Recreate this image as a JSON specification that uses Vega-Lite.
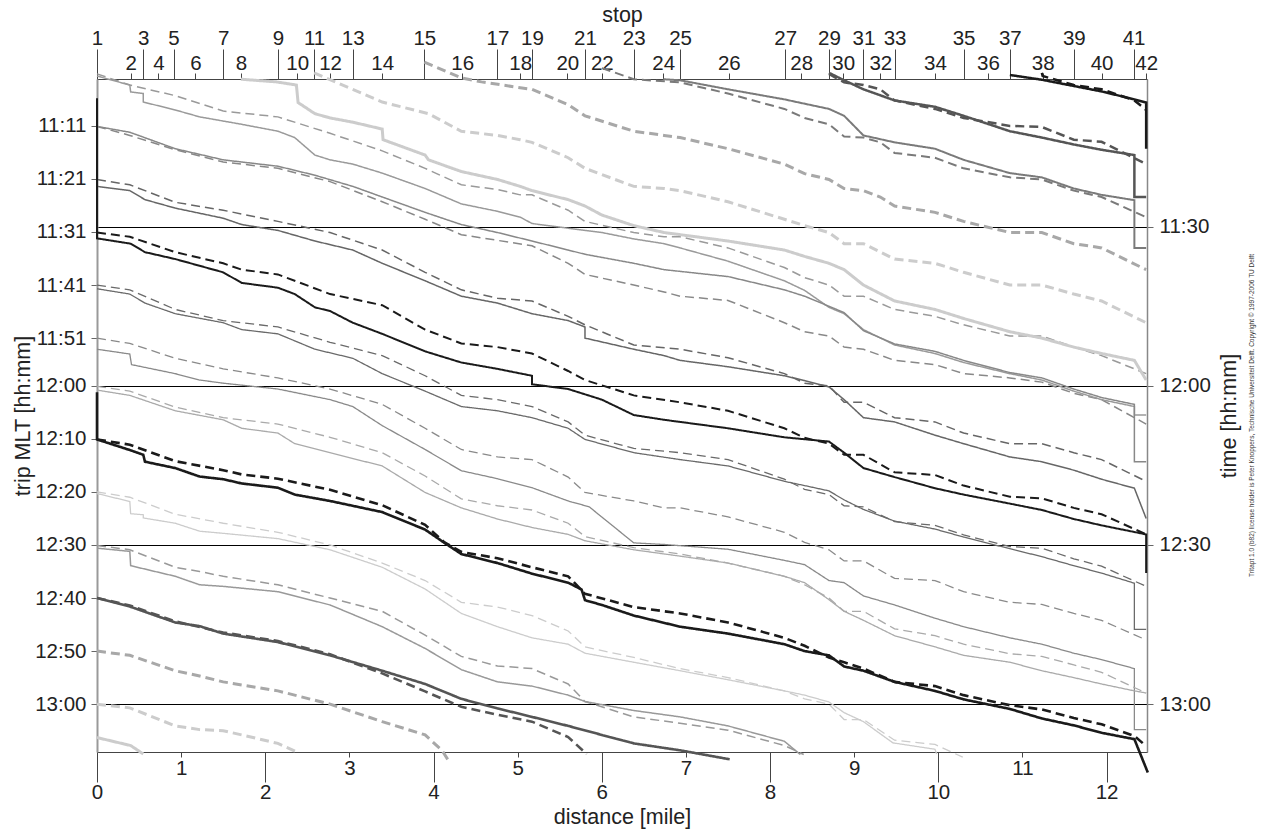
{
"$schema": "https://vega.github.io/schema/vega-lite/v6.json",
"width": 1050, "height": 673,
"autosize": {"type": "none"},
"padding": {"left": 97, "top": 79, "right": 117, "bottom": 79},
"background": "white",
"title": {"text": "Tritapt 1.0 (b82) license holder is Peter Knoppers, Technische Universiteit Delft. Copyright © 1997-2006 TU Delft", "orient": "right", "anchor": "middle", "angle": 270, "baseline": "top", "offset": 3, "fontSize": 6.5, "fontWeight": "normal", "font": "Liberation Sans", "color": "#333"},
"config": {"view": {"stroke": null}, "font": "Liberation Sans",
  "axis": {"labelFont": "Liberation Sans", "titleFont": "Liberation Sans", "labelFontSize": 20.5, "titleFontSize": 21.5, "titleFontWeight": "normal", "labelColor": "#222", "titleColor": "#222", "grid": false, "labelFlush": false, "labelOverlap": false, "labelBound": false, "domainColor": "#444", "tickColor": "#444", "tickWidth": 1}},
"datasets": {"trips": [
{"trip":"10:11","kind":"act","d":10.85,"t":1.4},{"trip":"10:11","kind":"act","d":11.23,"t":2.3},{"trip":"10:11","kind":"act","d":11.94,"t":4.5},{"trip":"10:11","kind":"act","d":12.33,"t":6.0},{"trip":"10:11","kind":"act","d":12.47,"t":6.6},{"trip":"10:11","kind":"act","d":12.47,"t":15.3},
{"trip":"10:11","kind":"plan","d":11.23,"t":1.0},{"trip":"10:11","kind":"plan","d":11.24,"t":1.6},{"trip":"10:11","kind":"plan","d":11.61,"t":3.3},{"trip":"10:11","kind":"plan","d":11.94,"t":4.1},{"trip":"10:11","kind":"plan","d":12.33,"t":6.2},{"trip":"10:11","kind":"plan","d":12.47,"t":8.0},
{"trip":"10:21","kind":"act","d":8.70,"t":1.0},{"trip":"10:21","kind":"act","d":8.88,"t":2.4},{"trip":"10:21","kind":"act","d":9.11,"t":4.1},{"trip":"10:21","kind":"act","d":9.48,"t":6.2},{"trip":"10:21","kind":"act","d":9.96,"t":7.4},{"trip":"10:21","kind":"act","d":10.30,"t":9.1},{"trip":"10:21","kind":"act","d":10.85,"t":12.0},{"trip":"10:21","kind":"act","d":11.23,"t":13.2},{"trip":"10:21","kind":"act","d":11.61,"t":14.5},{"trip":"10:21","kind":"act","d":11.94,"t":15.5},{"trip":"10:21","kind":"act","d":12.33,"t":16.5},{"trip":"10:21","kind":"act","d":12.33,"t":24.4},{"trip":"10:21","kind":"act","d":12.47,"t":24.4},
{"trip":"10:21","kind":"plan","d":8.70,"t":1.2},{"trip":"10:21","kind":"plan","d":8.88,"t":2.8},{"trip":"10:21","kind":"plan","d":9.11,"t":3.3},{"trip":"10:21","kind":"plan","d":9.31,"t":4.1},{"trip":"10:21","kind":"plan","d":9.48,"t":6.2},{"trip":"10:21","kind":"plan","d":9.96,"t":7.8},{"trip":"10:21","kind":"plan","d":10.30,"t":9.5},{"trip":"10:21","kind":"plan","d":10.85,"t":11.0},{"trip":"10:21","kind":"plan","d":11.23,"t":11.2},{"trip":"10:21","kind":"plan","d":11.61,"t":13.6},{"trip":"10:21","kind":"plan","d":11.94,"t":14.0},{"trip":"10:21","kind":"plan","d":12.47,"t":18.2},
{"trip":"10:31","kind":"act","d":6.73,"t":2.2},{"trip":"10:31","kind":"act","d":6.93,"t":2.4},{"trip":"10:31","kind":"act","d":7.50,"t":4.1},{"trip":"10:31","kind":"act","d":8.17,"t":6.0},{"trip":"10:31","kind":"act","d":8.70,"t":7.8},{"trip":"10:31","kind":"act","d":8.88,"t":9.1},{"trip":"10:31","kind":"act","d":9.11,"t":12.8},{"trip":"10:31","kind":"act","d":9.48,"t":14.1},{"trip":"10:31","kind":"act","d":9.96,"t":15.3},{"trip":"10:31","kind":"act","d":10.30,"t":17.4},{"trip":"10:31","kind":"act","d":10.85,"t":19.9},{"trip":"10:31","kind":"act","d":11.23,"t":20.7},{"trip":"10:31","kind":"act","d":11.61,"t":22.8},{"trip":"10:31","kind":"act","d":11.94,"t":24.0},{"trip":"10:31","kind":"act","d":12.33,"t":25.0},{"trip":"10:31","kind":"act","d":12.33,"t":34.0},{"trip":"10:31","kind":"act","d":12.47,"t":34.0},
{"trip":"10:31","kind":"plan","d":6.00,"t":0.1},{"trip":"10:31","kind":"plan","d":6.38,"t":2.2},{"trip":"10:31","kind":"plan","d":6.93,"t":2.8},{"trip":"10:31","kind":"plan","d":7.50,"t":4.9},{"trip":"10:31","kind":"plan","d":8.17,"t":7.8},{"trip":"10:31","kind":"plan","d":8.41,"t":9.5},{"trip":"10:31","kind":"plan","d":8.70,"t":10.7},{"trip":"10:31","kind":"plan","d":8.88,"t":13.0},{"trip":"10:31","kind":"plan","d":9.11,"t":13.2},{"trip":"10:31","kind":"plan","d":9.31,"t":14.1},{"trip":"10:31","kind":"plan","d":9.48,"t":16.1},{"trip":"10:31","kind":"plan","d":9.96,"t":17.0},{"trip":"10:31","kind":"plan","d":10.30,"t":19.0},{"trip":"10:31","kind":"plan","d":10.85,"t":20.7},{"trip":"10:31","kind":"plan","d":11.23,"t":21.1},{"trip":"10:31","kind":"plan","d":11.61,"t":23.2},{"trip":"10:31","kind":"plan","d":11.94,"t":24.4},{"trip":"10:31","kind":"plan","d":12.47,"t":28.2},
{"trip":"10:41","kind":"plan","d":3.89,"t":-1.0},{"trip":"10:41","kind":"plan","d":4.34,"t":2.0},{"trip":"10:41","kind":"plan","d":4.57,"t":2.7},{"trip":"10:41","kind":"plan","d":5.03,"t":3.8},{"trip":"10:41","kind":"plan","d":5.17,"t":4.1},{"trip":"10:41","kind":"plan","d":5.60,"t":7.0},{"trip":"10:41","kind":"plan","d":5.80,"t":9.1},{"trip":"10:41","kind":"plan","d":6.38,"t":12.0},{"trip":"10:41","kind":"plan","d":6.74,"t":12.8},{"trip":"10:41","kind":"plan","d":6.93,"t":13.2},{"trip":"10:41","kind":"plan","d":7.50,"t":15.3},{"trip":"10:41","kind":"plan","d":8.17,"t":18.2},{"trip":"10:41","kind":"plan","d":8.41,"t":20.0},{"trip":"10:41","kind":"plan","d":8.70,"t":21.1},{"trip":"10:41","kind":"plan","d":8.88,"t":22.8},{"trip":"10:41","kind":"plan","d":9.11,"t":23.2},{"trip":"10:41","kind":"plan","d":9.31,"t":24.4},{"trip":"10:41","kind":"plan","d":9.48,"t":26.1},{"trip":"10:41","kind":"plan","d":9.96,"t":27.3},{"trip":"10:41","kind":"plan","d":10.30,"t":29.0},{"trip":"10:41","kind":"plan","d":10.85,"t":31.1},{"trip":"10:41","kind":"plan","d":11.23,"t":31.1},{"trip":"10:41","kind":"plan","d":11.61,"t":33.2},{"trip":"10:41","kind":"plan","d":11.94,"t":34.0},{"trip":"10:41","kind":"plan","d":12.47,"t":38.1},
{"trip":"10:51","kind":"plan","d":2.58,"t":1.0},{"trip":"10:51","kind":"plan","d":3.39,"t":6.5},{"trip":"10:51","kind":"plan","d":3.94,"t":8.7},{"trip":"10:51","kind":"plan","d":4.33,"t":12.0},{"trip":"10:51","kind":"plan","d":4.76,"t":12.8},{"trip":"10:51","kind":"plan","d":5.03,"t":13.6},{"trip":"10:51","kind":"plan","d":5.17,"t":14.1},{"trip":"10:51","kind":"plan","d":5.60,"t":17.0},{"trip":"10:51","kind":"plan","d":5.80,"t":19.0},{"trip":"10:51","kind":"plan","d":6.38,"t":22.4},{"trip":"10:51","kind":"plan","d":6.74,"t":22.8},{"trip":"10:51","kind":"plan","d":6.93,"t":23.2},{"trip":"10:51","kind":"plan","d":7.50,"t":25.3},{"trip":"10:51","kind":"plan","d":8.17,"t":28.6},{"trip":"10:51","kind":"plan","d":8.41,"t":29.8},{"trip":"10:51","kind":"plan","d":8.70,"t":31.1},{"trip":"10:51","kind":"plan","d":8.88,"t":33.2},{"trip":"10:51","kind":"plan","d":9.11,"t":33.2},{"trip":"10:51","kind":"plan","d":9.48,"t":36.1},{"trip":"10:51","kind":"plan","d":9.96,"t":36.9},{"trip":"10:51","kind":"plan","d":10.30,"t":38.6},{"trip":"10:51","kind":"plan","d":10.85,"t":41.0},{"trip":"10:51","kind":"plan","d":11.23,"t":41.0},{"trip":"10:51","kind":"plan","d":11.61,"t":42.7},{"trip":"10:51","kind":"plan","d":11.94,"t":44.0},{"trip":"10:51","kind":"plan","d":12.47,"t":48.1},
{"trip":"10:51","kind":"act","d":1.71,"t":2.2},{"trip":"10:51","kind":"act","d":2.13,"t":2.7},{"trip":"10:51","kind":"act","d":2.37,"t":3.3},{"trip":"10:51","kind":"act","d":2.39,"t":6.6},{"trip":"10:51","kind":"act","d":2.59,"t":8.7},{"trip":"10:51","kind":"act","d":2.77,"t":9.5},{"trip":"10:51","kind":"act","d":3.04,"t":10.3},{"trip":"10:51","kind":"act","d":3.39,"t":11.6},{"trip":"10:51","kind":"act","d":3.40,"t":13.6},{"trip":"10:51","kind":"act","d":3.90,"t":16.5},{"trip":"10:51","kind":"act","d":3.94,"t":17.4},{"trip":"10:51","kind":"act","d":4.33,"t":19.6},{"trip":"10:51","kind":"act","d":4.76,"t":21.1},{"trip":"10:51","kind":"act","d":5.03,"t":22.4},{"trip":"10:51","kind":"act","d":5.17,"t":23.2},{"trip":"10:51","kind":"act","d":5.60,"t":24.9},{"trip":"10:51","kind":"act","d":5.80,"t":26.1},{"trip":"10:51","kind":"act","d":6.00,"t":27.8},{"trip":"10:51","kind":"act","d":6.38,"t":29.8},{"trip":"10:51","kind":"act","d":6.74,"t":31.1},{"trip":"10:51","kind":"act","d":6.93,"t":31.5},{"trip":"10:51","kind":"act","d":7.50,"t":32.7},{"trip":"10:51","kind":"act","d":8.17,"t":34.4},{"trip":"10:51","kind":"act","d":8.41,"t":35.6},{"trip":"10:51","kind":"act","d":8.70,"t":36.9},{"trip":"10:51","kind":"act","d":8.88,"t":38.1},{"trip":"10:51","kind":"act","d":9.11,"t":41.0},{"trip":"10:51","kind":"act","d":9.48,"t":44.0},{"trip":"10:51","kind":"act","d":9.96,"t":45.6},{"trip":"10:51","kind":"act","d":10.30,"t":47.3},{"trip":"10:51","kind":"act","d":10.85,"t":49.8},{"trip":"10:51","kind":"act","d":11.23,"t":51.0},{"trip":"10:51","kind":"act","d":11.61,"t":52.7},{"trip":"10:51","kind":"act","d":11.94,"t":53.9},{"trip":"10:51","kind":"act","d":12.33,"t":55.2},{"trip":"10:51","kind":"act","d":12.47,"t":58.9},
{"trip":"11:01","kind":"plan","d":0,"t":1.2},{"trip":"11:01","kind":"plan","d":0.39,"t":3.3},{"trip":"11:01","kind":"plan","d":0.93,"t":5.3},{"trip":"11:01","kind":"plan","d":1.50,"t":8.2},{"trip":"11:01","kind":"plan","d":2.15,"t":9.3},{"trip":"11:01","kind":"plan","d":2.77,"t":12.4},{"trip":"11:01","kind":"plan","d":3.39,"t":15.7},{"trip":"11:01","kind":"plan","d":3.90,"t":19.0},{"trip":"11:01","kind":"plan","d":4.33,"t":22.1},{"trip":"11:01","kind":"plan","d":4.76,"t":23.0},{"trip":"11:01","kind":"plan","d":5.03,"t":24.0},{"trip":"11:01","kind":"plan","d":5.17,"t":24.0},{"trip":"11:01","kind":"plan","d":5.60,"t":26.9},{"trip":"11:01","kind":"plan","d":5.80,"t":29.0},{"trip":"11:01","kind":"plan","d":6.38,"t":31.1},{"trip":"11:01","kind":"plan","d":6.74,"t":31.9},{"trip":"11:01","kind":"plan","d":6.93,"t":31.9},{"trip":"11:01","kind":"plan","d":7.50,"t":34.0},{"trip":"11:01","kind":"plan","d":8.17,"t":37.7},{"trip":"11:01","kind":"plan","d":8.41,"t":39.6},{"trip":"11:01","kind":"plan","d":8.70,"t":41.0},{"trip":"11:01","kind":"plan","d":8.88,"t":43.1},{"trip":"11:01","kind":"plan","d":9.11,"t":43.1},{"trip":"11:01","kind":"plan","d":9.48,"t":45.6},{"trip":"11:01","kind":"plan","d":9.96,"t":46.9},{"trip":"11:01","kind":"plan","d":10.30,"t":48.5},{"trip":"11:01","kind":"plan","d":10.85,"t":50.6},{"trip":"11:01","kind":"plan","d":11.23,"t":50.6},{"trip":"11:01","kind":"plan","d":11.61,"t":52.7},{"trip":"11:01","kind":"plan","d":11.94,"t":54.3},{"trip":"11:01","kind":"plan","d":12.47,"t":57.7},
{"trip":"11:01","kind":"act","d":0,"t":1.6},{"trip":"11:01","kind":"act","d":0.39,"t":3.3},{"trip":"11:01","kind":"act","d":0.40,"t":4.6},{"trip":"11:01","kind":"act","d":0.55,"t":4.9},{"trip":"11:01","kind":"act","d":0.55,"t":6.5},{"trip":"11:01","kind":"act","d":0.93,"t":8.0},{"trip":"11:01","kind":"act","d":1.22,"t":9.3},{"trip":"11:01","kind":"act","d":1.72,"t":10.7},{"trip":"11:01","kind":"act","d":2.15,"t":12.0},{"trip":"11:01","kind":"act","d":2.35,"t":13.2},{"trip":"11:01","kind":"act","d":2.59,"t":16.5},{"trip":"11:01","kind":"act","d":2.77,"t":17.4},{"trip":"11:01","kind":"act","d":3.04,"t":18.2},{"trip":"11:01","kind":"act","d":3.39,"t":19.9},{"trip":"11:01","kind":"act","d":3.90,"t":22.8},{"trip":"11:01","kind":"act","d":4.33,"t":25.7},{"trip":"11:01","kind":"act","d":4.76,"t":27.1},{"trip":"11:01","kind":"act","d":5.03,"t":28.2},{"trip":"11:01","kind":"act","d":5.17,"t":29.4},{"trip":"11:01","kind":"act","d":5.80,"t":30.7},{"trip":"11:01","kind":"act","d":6.00,"t":31.1},{"trip":"11:01","kind":"act","d":6.38,"t":32.3},{"trip":"11:01","kind":"act","d":6.74,"t":33.2},{"trip":"11:01","kind":"act","d":6.93,"t":34.0},{"trip":"11:01","kind":"act","d":7.50,"t":36.5},{"trip":"11:01","kind":"act","d":8.17,"t":40.2},{"trip":"11:01","kind":"act","d":8.41,"t":42.0},{"trip":"11:01","kind":"act","d":8.70,"t":45.2},{"trip":"11:01","kind":"act","d":8.88,"t":46.4},{"trip":"11:01","kind":"act","d":9.11,"t":49.4},{"trip":"11:01","kind":"act","d":9.48,"t":52.3},{"trip":"11:01","kind":"act","d":9.96,"t":53.9},{"trip":"11:01","kind":"act","d":10.30,"t":55.6},{"trip":"11:01","kind":"act","d":10.85,"t":57.7},{"trip":"11:01","kind":"act","d":11.23,"t":58.9},{"trip":"11:01","kind":"act","d":11.61,"t":61.0},{"trip":"11:01","kind":"act","d":11.94,"t":62.6},{"trip":"11:01","kind":"act","d":12.33,"t":63.9},{"trip":"11:01","kind":"act","d":12.33,"t":65.5},{"trip":"11:01","kind":"act","d":12.47,"t":65.5},
{"trip":"11:11","kind":"act","d":0,"t":11.1},{"trip":"11:11","kind":"act","d":0.39,"t":12.2},{"trip":"11:11","kind":"act","d":0.93,"t":15.3},{"trip":"11:11","kind":"act","d":1.50,"t":17.4},{"trip":"11:11","kind":"act","d":2.15,"t":18.6},{"trip":"11:11","kind":"act","d":2.59,"t":20.3},{"trip":"11:11","kind":"act","d":3.04,"t":22.4},{"trip":"11:11","kind":"act","d":3.39,"t":24.4},{"trip":"11:11","kind":"act","d":3.90,"t":27.3},{"trip":"11:11","kind":"act","d":4.33,"t":29.6},{"trip":"11:11","kind":"act","d":4.76,"t":31.1},{"trip":"11:11","kind":"act","d":5.17,"t":32.7},{"trip":"11:11","kind":"act","d":5.60,"t":34.4},{"trip":"11:11","kind":"act","d":5.80,"t":35.2},{"trip":"11:11","kind":"act","d":6.38,"t":36.9},{"trip":"11:11","kind":"act","d":6.74,"t":38.1},{"trip":"11:11","kind":"act","d":7.50,"t":39.4},{"trip":"11:11","kind":"act","d":8.17,"t":41.9},{"trip":"11:11","kind":"act","d":8.41,"t":43.1},{"trip":"11:11","kind":"act","d":8.70,"t":45.0},{"trip":"11:11","kind":"act","d":8.88,"t":46.2},{"trip":"11:11","kind":"act","d":9.11,"t":49.6},{"trip":"11:11","kind":"act","d":9.48,"t":52.1},{"trip":"11:11","kind":"act","d":9.96,"t":53.5},{"trip":"11:11","kind":"act","d":10.30,"t":55.2},{"trip":"11:11","kind":"act","d":10.85,"t":57.5},{"trip":"11:11","kind":"act","d":11.23,"t":58.5},{"trip":"11:11","kind":"act","d":11.61,"t":60.6},{"trip":"11:11","kind":"act","d":11.94,"t":62.2},{"trip":"11:11","kind":"act","d":12.33,"t":63.5},{"trip":"11:11","kind":"act","d":12.33,"t":74.3},{"trip":"11:11","kind":"act","d":12.47,"t":74.3},
{"trip":"11:11","kind":"plan","d":0,"t":11.1},{"trip":"11:11","kind":"plan","d":0.39,"t":12.8},{"trip":"11:11","kind":"plan","d":0.93,"t":15.5},{"trip":"11:11","kind":"plan","d":1.50,"t":17.8},{"trip":"11:11","kind":"plan","d":2.15,"t":19.0},{"trip":"11:11","kind":"plan","d":2.77,"t":21.5},{"trip":"11:11","kind":"plan","d":3.39,"t":25.3},{"trip":"11:11","kind":"plan","d":3.90,"t":28.6},{"trip":"11:11","kind":"plan","d":4.33,"t":31.5},{"trip":"11:11","kind":"plan","d":5.17,"t":33.6},{"trip":"11:11","kind":"plan","d":5.60,"t":36.9},{"trip":"11:11","kind":"plan","d":5.80,"t":39.0},{"trip":"11:11","kind":"plan","d":6.38,"t":41.0},{"trip":"11:11","kind":"plan","d":6.74,"t":42.3},{"trip":"11:11","kind":"plan","d":6.93,"t":43.1},{"trip":"11:11","kind":"plan","d":7.50,"t":43.9},{"trip":"11:11","kind":"plan","d":8.17,"t":48.1},{"trip":"11:11","kind":"plan","d":8.41,"t":49.8},{"trip":"11:11","kind":"plan","d":8.70,"t":50.6},{"trip":"11:11","kind":"plan","d":8.88,"t":52.7},{"trip":"11:11","kind":"plan","d":9.11,"t":53.1},{"trip":"11:11","kind":"plan","d":9.48,"t":55.2},{"trip":"11:11","kind":"plan","d":9.96,"t":56.0},{"trip":"11:11","kind":"plan","d":10.30,"t":57.7},{"trip":"11:11","kind":"plan","d":10.85,"t":58.5},{"trip":"11:11","kind":"plan","d":11.23,"t":59.3},{"trip":"11:11","kind":"plan","d":11.61,"t":61.4},{"trip":"11:11","kind":"plan","d":11.94,"t":62.6},{"trip":"11:11","kind":"plan","d":12.47,"t":67.2},
{"trip":"11:21","kind":"plan","d":0,"t":21.1},{"trip":"11:21","kind":"plan","d":0.39,"t":22.1},{"trip":"11:21","kind":"plan","d":0.93,"t":25.4},{"trip":"11:21","kind":"plan","d":1.50,"t":26.9},{"trip":"11:21","kind":"plan","d":2.15,"t":29.0},{"trip":"11:21","kind":"plan","d":2.77,"t":31.1},{"trip":"11:21","kind":"plan","d":3.39,"t":34.4},{"trip":"11:21","kind":"plan","d":3.90,"t":38.6},{"trip":"11:21","kind":"plan","d":4.33,"t":41.9},{"trip":"11:21","kind":"plan","d":4.76,"t":43.5},{"trip":"11:21","kind":"plan","d":5.17,"t":44.0},{"trip":"11:21","kind":"plan","d":5.60,"t":46.9},{"trip":"11:21","kind":"plan","d":5.80,"t":48.5},{"trip":"11:21","kind":"plan","d":6.38,"t":52.3},{"trip":"11:21","kind":"plan","d":6.93,"t":53.1},{"trip":"11:21","kind":"plan","d":7.50,"t":54.7},{"trip":"11:21","kind":"plan","d":8.17,"t":57.7},{"trip":"11:21","kind":"plan","d":8.41,"t":59.5},{"trip":"11:21","kind":"plan","d":8.70,"t":60.0},{"trip":"11:21","kind":"plan","d":8.88,"t":63.1},{"trip":"11:21","kind":"plan","d":9.11,"t":63.1},{"trip":"11:21","kind":"plan","d":9.48,"t":66.0},{"trip":"11:21","kind":"plan","d":9.96,"t":66.8},{"trip":"11:21","kind":"plan","d":10.30,"t":68.9},{"trip":"11:21","kind":"plan","d":10.85,"t":70.9},{"trip":"11:21","kind":"plan","d":11.23,"t":70.9},{"trip":"11:21","kind":"plan","d":11.61,"t":72.6},{"trip":"11:21","kind":"plan","d":11.94,"t":73.9},{"trip":"11:21","kind":"plan","d":12.47,"t":78.0},
{"trip":"11:21","kind":"act","d":0,"t":22.4},{"trip":"11:21","kind":"act","d":0.39,"t":23.2},{"trip":"11:21","kind":"act","d":0.57,"t":24.9},{"trip":"11:21","kind":"act","d":0.93,"t":26.5},{"trip":"11:21","kind":"act","d":1.50,"t":28.4},{"trip":"11:21","kind":"act","d":1.72,"t":29.6},{"trip":"11:21","kind":"act","d":2.15,"t":30.7},{"trip":"11:21","kind":"act","d":2.59,"t":32.7},{"trip":"11:21","kind":"act","d":3.04,"t":34.4},{"trip":"11:21","kind":"act","d":3.39,"t":36.9},{"trip":"11:21","kind":"act","d":3.90,"t":40.2},{"trip":"11:21","kind":"act","d":4.33,"t":43.1},{"trip":"11:21","kind":"act","d":4.76,"t":44.4},{"trip":"11:21","kind":"act","d":5.17,"t":46.4},{"trip":"11:21","kind":"act","d":5.60,"t":47.7},{"trip":"11:21","kind":"act","d":5.80,"t":48.9},{"trip":"11:21","kind":"act","d":5.80,"t":51.0},{"trip":"11:21","kind":"act","d":6.38,"t":53.1},{"trip":"11:21","kind":"act","d":6.74,"t":54.3},{"trip":"11:21","kind":"act","d":6.93,"t":55.2},{"trip":"11:21","kind":"act","d":7.50,"t":56.4},{"trip":"11:21","kind":"act","d":8.17,"t":58.1},{"trip":"11:21","kind":"act","d":8.41,"t":59.0},{"trip":"11:21","kind":"act","d":8.70,"t":60.2},{"trip":"11:21","kind":"act","d":8.88,"t":62.6},{"trip":"11:21","kind":"act","d":9.11,"t":66.0},{"trip":"11:21","kind":"act","d":9.48,"t":66.8},{"trip":"11:21","kind":"act","d":9.96,"t":69.3},{"trip":"11:21","kind":"act","d":10.30,"t":70.9},{"trip":"11:21","kind":"act","d":10.85,"t":73.4},{"trip":"11:21","kind":"act","d":11.23,"t":74.3},{"trip":"11:21","kind":"act","d":11.61,"t":75.9},{"trip":"11:21","kind":"act","d":11.94,"t":77.6},{"trip":"11:21","kind":"act","d":12.33,"t":79.3},{"trip":"11:21","kind":"act","d":12.47,"t":85.0},
{"trip":"11:31","kind":"act","d":0,"t":5.8},{"trip":"11:31","kind":"act","d":0,"t":32.2},{"trip":"11:31","kind":"act","d":0.40,"t":33.2},{"trip":"11:31","kind":"act","d":0.57,"t":34.8},{"trip":"11:31","kind":"act","d":0.93,"t":36.1},{"trip":"11:31","kind":"act","d":1.50,"t":38.6},{"trip":"11:31","kind":"act","d":1.72,"t":40.6},{"trip":"11:31","kind":"act","d":2.15,"t":41.5},{"trip":"11:31","kind":"act","d":2.35,"t":42.7},{"trip":"11:31","kind":"act","d":2.59,"t":45.2},{"trip":"11:31","kind":"act","d":2.77,"t":45.9},{"trip":"11:31","kind":"act","d":3.04,"t":48.1},{"trip":"11:31","kind":"act","d":3.39,"t":50.2},{"trip":"11:31","kind":"act","d":3.90,"t":53.5},{"trip":"11:31","kind":"act","d":4.33,"t":55.6},{"trip":"11:31","kind":"act","d":4.76,"t":56.8},{"trip":"11:31","kind":"act","d":5.17,"t":58.1},{"trip":"11:31","kind":"act","d":5.17,"t":59.7},{"trip":"11:31","kind":"act","d":5.60,"t":60.6},{"trip":"11:31","kind":"act","d":5.80,"t":61.6},{"trip":"11:31","kind":"act","d":6.00,"t":62.6},{"trip":"11:31","kind":"act","d":6.38,"t":65.5},{"trip":"11:31","kind":"act","d":6.74,"t":66.4},{"trip":"11:31","kind":"act","d":7.50,"t":68.0},{"trip":"11:31","kind":"act","d":8.17,"t":69.7},{"trip":"11:31","kind":"act","d":8.70,"t":70.5},{"trip":"11:31","kind":"act","d":8.88,"t":72.6},{"trip":"11:31","kind":"act","d":9.11,"t":75.5},{"trip":"11:31","kind":"act","d":9.48,"t":77.2},{"trip":"11:31","kind":"act","d":9.96,"t":79.3},{"trip":"11:31","kind":"act","d":10.30,"t":80.5},{"trip":"11:31","kind":"act","d":10.85,"t":82.2},{"trip":"11:31","kind":"act","d":11.23,"t":83.4},{"trip":"11:31","kind":"act","d":11.61,"t":85.1},{"trip":"11:31","kind":"act","d":11.94,"t":86.3},{"trip":"11:31","kind":"act","d":12.47,"t":88.0},{"trip":"11:31","kind":"act","d":12.47,"t":95.3},
{"trip":"11:31","kind":"plan","d":0,"t":31.1},{"trip":"11:31","kind":"plan","d":0.39,"t":31.9},{"trip":"11:31","kind":"plan","d":0.93,"t":34.8},{"trip":"11:31","kind":"plan","d":1.50,"t":36.9},{"trip":"11:31","kind":"plan","d":1.72,"t":38.1},{"trip":"11:31","kind":"plan","d":2.15,"t":39.0},{"trip":"11:31","kind":"plan","d":2.77,"t":42.7},{"trip":"11:31","kind":"plan","d":3.39,"t":44.8},{"trip":"11:31","kind":"plan","d":3.90,"t":49.4},{"trip":"11:31","kind":"plan","d":4.33,"t":52.0},{"trip":"11:31","kind":"plan","d":4.76,"t":52.7},{"trip":"11:31","kind":"plan","d":5.17,"t":53.9},{"trip":"11:31","kind":"plan","d":5.60,"t":57.2},{"trip":"11:31","kind":"plan","d":5.80,"t":58.9},{"trip":"11:31","kind":"plan","d":6.38,"t":61.8},{"trip":"11:31","kind":"plan","d":6.93,"t":63.1},{"trip":"11:31","kind":"plan","d":7.50,"t":64.7},{"trip":"11:31","kind":"plan","d":8.17,"t":68.0},{"trip":"11:31","kind":"plan","d":8.41,"t":69.8},{"trip":"11:31","kind":"plan","d":8.70,"t":70.9},{"trip":"11:31","kind":"plan","d":8.88,"t":73.0},{"trip":"11:31","kind":"plan","d":9.11,"t":73.0},{"trip":"11:31","kind":"plan","d":9.48,"t":76.3},{"trip":"11:31","kind":"plan","d":9.96,"t":76.8},{"trip":"11:31","kind":"plan","d":10.30,"t":78.8},{"trip":"11:31","kind":"plan","d":10.85,"t":80.9},{"trip":"11:31","kind":"plan","d":11.23,"t":81.2},{"trip":"11:31","kind":"plan","d":11.61,"t":83.0},{"trip":"11:31","kind":"plan","d":11.94,"t":84.2},{"trip":"11:31","kind":"plan","d":12.47,"t":88.0},
{"trip":"11:41","kind":"plan","d":0,"t":41.0},{"trip":"11:41","kind":"plan","d":0.39,"t":41.9},{"trip":"11:41","kind":"plan","d":0.93,"t":45.6},{"trip":"11:41","kind":"plan","d":1.50,"t":47.7},{"trip":"11:41","kind":"plan","d":2.15,"t":48.9},{"trip":"11:41","kind":"plan","d":2.77,"t":51.8},{"trip":"11:41","kind":"plan","d":3.39,"t":54.3},{"trip":"11:41","kind":"plan","d":3.90,"t":58.1},{"trip":"11:41","kind":"plan","d":4.33,"t":61.8},{"trip":"11:41","kind":"plan","d":4.76,"t":62.6},{"trip":"11:41","kind":"plan","d":5.17,"t":63.9},{"trip":"11:41","kind":"plan","d":5.60,"t":66.8},{"trip":"11:41","kind":"plan","d":5.80,"t":69.3},{"trip":"11:41","kind":"plan","d":6.38,"t":71.8},{"trip":"11:41","kind":"plan","d":6.93,"t":72.6},{"trip":"11:41","kind":"plan","d":7.50,"t":73.9},{"trip":"11:41","kind":"plan","d":8.17,"t":77.6},{"trip":"11:41","kind":"plan","d":8.41,"t":79.5},{"trip":"11:41","kind":"plan","d":8.70,"t":80.5},{"trip":"11:41","kind":"plan","d":8.88,"t":82.6},{"trip":"11:41","kind":"plan","d":9.11,"t":82.8},{"trip":"11:41","kind":"plan","d":9.48,"t":85.6},{"trip":"11:41","kind":"plan","d":9.96,"t":86.3},{"trip":"11:41","kind":"plan","d":10.30,"t":88.1},{"trip":"11:41","kind":"plan","d":10.85,"t":90.3},{"trip":"11:41","kind":"plan","d":11.23,"t":90.6},{"trip":"11:41","kind":"plan","d":11.61,"t":92.6},{"trip":"11:41","kind":"plan","d":11.94,"t":94.0},{"trip":"11:41","kind":"plan","d":12.47,"t":97.8},
{"trip":"11:41","kind":"act","d":0,"t":41.7},{"trip":"11:41","kind":"act","d":0.39,"t":42.7},{"trip":"11:41","kind":"act","d":0.57,"t":44.4},{"trip":"11:41","kind":"act","d":0.93,"t":46.4},{"trip":"11:41","kind":"act","d":1.50,"t":48.1},{"trip":"11:41","kind":"act","d":1.72,"t":49.4},{"trip":"11:41","kind":"act","d":2.15,"t":50.2},{"trip":"11:41","kind":"act","d":2.59,"t":53.1},{"trip":"11:41","kind":"act","d":3.04,"t":54.8},{"trip":"11:41","kind":"act","d":3.39,"t":57.7},{"trip":"11:41","kind":"act","d":3.90,"t":61.0},{"trip":"11:41","kind":"act","d":4.33,"t":63.9},{"trip":"11:41","kind":"act","d":4.76,"t":64.7},{"trip":"11:41","kind":"act","d":5.17,"t":66.0},{"trip":"11:41","kind":"act","d":5.60,"t":68.0},{"trip":"11:41","kind":"act","d":5.80,"t":70.1},{"trip":"11:41","kind":"act","d":6.38,"t":72.6},{"trip":"11:41","kind":"act","d":6.93,"t":73.9},{"trip":"11:41","kind":"act","d":7.50,"t":75.1},{"trip":"11:41","kind":"act","d":8.17,"t":78.0},{"trip":"11:41","kind":"act","d":8.41,"t":78.8},{"trip":"11:41","kind":"act","d":8.70,"t":79.8},{"trip":"11:41","kind":"act","d":8.88,"t":81.5},{"trip":"11:41","kind":"act","d":9.11,"t":83.3},{"trip":"11:41","kind":"act","d":9.48,"t":85.5},{"trip":"11:41","kind":"act","d":9.96,"t":87.0},{"trip":"11:41","kind":"act","d":10.30,"t":88.5},{"trip":"11:41","kind":"act","d":10.85,"t":90.7},{"trip":"11:41","kind":"act","d":11.23,"t":92.2},{"trip":"11:41","kind":"act","d":11.61,"t":93.9},{"trip":"11:41","kind":"act","d":11.94,"t":95.3},{"trip":"11:41","kind":"act","d":12.33,"t":97.2},{"trip":"11:41","kind":"act","d":12.33,"t":105.9},{"trip":"11:41","kind":"act","d":12.47,"t":105.9},
{"trip":"11:51","kind":"plan","d":0,"t":51.0},{"trip":"11:51","kind":"plan","d":0.39,"t":52.0},{"trip":"11:51","kind":"plan","d":0.93,"t":54.8},{"trip":"11:51","kind":"plan","d":1.50,"t":56.8},{"trip":"11:51","kind":"plan","d":2.15,"t":58.5},{"trip":"11:51","kind":"plan","d":2.77,"t":60.6},{"trip":"11:51","kind":"plan","d":3.39,"t":63.5},{"trip":"11:51","kind":"plan","d":3.90,"t":68.0},{"trip":"11:51","kind":"plan","d":4.33,"t":72.0},{"trip":"11:51","kind":"plan","d":4.76,"t":73.4},{"trip":"11:51","kind":"plan","d":5.17,"t":73.9},{"trip":"11:51","kind":"plan","d":5.60,"t":77.2},{"trip":"11:51","kind":"plan","d":5.80,"t":80.1},{"trip":"11:51","kind":"plan","d":6.38,"t":81.7},{"trip":"11:51","kind":"plan","d":6.74,"t":83.0},{"trip":"11:51","kind":"plan","d":6.93,"t":83.0},{"trip":"11:51","kind":"plan","d":7.50,"t":84.7},{"trip":"11:51","kind":"plan","d":8.17,"t":87.6},{"trip":"11:51","kind":"plan","d":8.41,"t":89.5},{"trip":"11:51","kind":"plan","d":8.70,"t":90.9},{"trip":"11:51","kind":"plan","d":8.88,"t":93.0},{"trip":"11:51","kind":"plan","d":9.11,"t":93.0},{"trip":"11:51","kind":"plan","d":9.48,"t":96.3},{"trip":"11:51","kind":"plan","d":9.96,"t":96.7},{"trip":"11:51","kind":"plan","d":10.30,"t":98.8},{"trip":"11:51","kind":"plan","d":10.85,"t":100.8},{"trip":"11:51","kind":"plan","d":11.23,"t":101.2},{"trip":"11:51","kind":"plan","d":11.61,"t":102.9},{"trip":"11:51","kind":"plan","d":11.94,"t":104.2},{"trip":"11:51","kind":"plan","d":12.47,"t":107.9},
{"trip":"11:51","kind":"act","d":0,"t":53.1},{"trip":"11:51","kind":"act","d":0.39,"t":54.0},{"trip":"11:51","kind":"act","d":0.41,"t":56.0},{"trip":"11:51","kind":"act","d":0.93,"t":57.7},{"trip":"11:51","kind":"act","d":1.22,"t":58.9},{"trip":"11:51","kind":"act","d":1.50,"t":59.5},{"trip":"11:51","kind":"act","d":2.15,"t":60.6},{"trip":"11:51","kind":"act","d":2.77,"t":62.6},{"trip":"11:51","kind":"act","d":3.04,"t":63.9},{"trip":"11:51","kind":"act","d":3.39,"t":67.5},{"trip":"11:51","kind":"act","d":3.90,"t":72.0},{"trip":"11:51","kind":"act","d":4.33,"t":76.0},{"trip":"11:51","kind":"act","d":4.76,"t":77.5},{"trip":"11:51","kind":"act","d":5.17,"t":79.2},{"trip":"11:51","kind":"act","d":5.60,"t":81.7},{"trip":"11:51","kind":"act","d":5.85,"t":82.8},{"trip":"11:51","kind":"act","d":6.38,"t":89.6},{"trip":"11:51","kind":"act","d":6.74,"t":89.9},{"trip":"11:51","kind":"act","d":7.50,"t":90.8},{"trip":"11:51","kind":"act","d":8.17,"t":92.9},{"trip":"11:51","kind":"act","d":8.41,"t":93.7},{"trip":"11:51","kind":"act","d":8.70,"t":96.7},{"trip":"11:51","kind":"act","d":8.88,"t":97.1},{"trip":"11:51","kind":"act","d":9.11,"t":99.6},{"trip":"11:51","kind":"act","d":9.48,"t":101.3},{"trip":"11:51","kind":"act","d":9.96,"t":103.8},{"trip":"11:51","kind":"act","d":10.30,"t":105.4},{"trip":"11:51","kind":"act","d":10.85,"t":107.5},{"trip":"11:51","kind":"act","d":11.23,"t":108.7},{"trip":"11:51","kind":"act","d":11.61,"t":110.4},{"trip":"11:51","kind":"act","d":11.94,"t":111.6},{"trip":"11:51","kind":"act","d":12.33,"t":113.3},{"trip":"11:51","kind":"act","d":12.33,"t":124.8},{"trip":"11:51","kind":"act","d":12.47,"t":124.8},
{"trip":"12:00","kind":"plan","d":0,"t":60.1},{"trip":"12:00","kind":"plan","d":0.39,"t":61.0},{"trip":"12:00","kind":"plan","d":0.93,"t":64.0},{"trip":"12:00","kind":"plan","d":1.50,"t":66.0},{"trip":"12:00","kind":"plan","d":2.15,"t":67.2},{"trip":"12:00","kind":"plan","d":2.77,"t":69.7},{"trip":"12:00","kind":"plan","d":3.39,"t":72.6},{"trip":"12:00","kind":"plan","d":3.90,"t":77.0},{"trip":"12:00","kind":"plan","d":4.33,"t":81.3},{"trip":"12:00","kind":"plan","d":4.76,"t":82.6},{"trip":"12:00","kind":"plan","d":5.17,"t":83.4},{"trip":"12:00","kind":"plan","d":5.60,"t":85.9},{"trip":"12:00","kind":"plan","d":5.80,"t":88.4},{"trip":"12:00","kind":"plan","d":6.38,"t":90.5},{"trip":"12:00","kind":"plan","d":6.93,"t":91.7},{"trip":"12:00","kind":"plan","d":7.50,"t":93.4},{"trip":"12:00","kind":"plan","d":8.17,"t":95.9},{"trip":"12:00","kind":"plan","d":8.41,"t":97.5},{"trip":"12:00","kind":"plan","d":8.70,"t":100.0},{"trip":"12:00","kind":"plan","d":8.88,"t":102.5},{"trip":"12:00","kind":"plan","d":9.11,"t":102.5},{"trip":"12:00","kind":"plan","d":9.48,"t":105.8},{"trip":"12:00","kind":"plan","d":9.96,"t":107.1},{"trip":"12:00","kind":"plan","d":10.30,"t":108.7},{"trip":"12:00","kind":"plan","d":10.85,"t":110.5},{"trip":"12:00","kind":"plan","d":11.23,"t":111.0},{"trip":"12:00","kind":"plan","d":11.61,"t":112.6},{"trip":"12:00","kind":"plan","d":11.94,"t":114.0},{"trip":"12:00","kind":"plan","d":12.47,"t":117.9},
{"trip":"12:00","kind":"act","d":0,"t":60.8},{"trip":"12:00","kind":"act","d":0.39,"t":61.8},{"trip":"12:00","kind":"act","d":0.93,"t":64.7},{"trip":"12:00","kind":"act","d":1.50,"t":66.4},{"trip":"12:00","kind":"act","d":1.72,"t":68.0},{"trip":"12:00","kind":"act","d":2.15,"t":68.9},{"trip":"12:00","kind":"act","d":2.35,"t":70.9},{"trip":"12:00","kind":"act","d":2.77,"t":72.6},{"trip":"12:00","kind":"act","d":3.39,"t":75.1},{"trip":"12:00","kind":"act","d":3.90,"t":80.1},{"trip":"12:00","kind":"act","d":4.33,"t":83.0},{"trip":"12:00","kind":"act","d":4.76,"t":85.1},{"trip":"12:00","kind":"act","d":5.17,"t":86.7},{"trip":"12:00","kind":"act","d":5.60,"t":88.0},{"trip":"12:00","kind":"act","d":5.80,"t":89.2},{"trip":"12:00","kind":"act","d":6.38,"t":90.9},{"trip":"12:00","kind":"act","d":6.93,"t":92.1},{"trip":"12:00","kind":"act","d":7.50,"t":93.4},{"trip":"12:00","kind":"act","d":8.17,"t":95.9},{"trip":"12:00","kind":"act","d":8.41,"t":97.1},{"trip":"12:00","kind":"act","d":8.70,"t":100.3},{"trip":"12:00","kind":"act","d":8.88,"t":102.5},{"trip":"12:00","kind":"act","d":9.11,"t":104.2},{"trip":"12:00","kind":"act","d":9.48,"t":107.1},{"trip":"12:00","kind":"act","d":9.96,"t":109.2},{"trip":"12:00","kind":"act","d":10.30,"t":110.8},{"trip":"12:00","kind":"act","d":10.85,"t":112.1},{"trip":"12:00","kind":"act","d":11.23,"t":113.7},{"trip":"12:00","kind":"act","d":11.61,"t":115.0},{"trip":"12:00","kind":"act","d":11.94,"t":116.2},{"trip":"12:00","kind":"act","d":12.33,"t":117.5},{"trip":"12:00","kind":"act","d":12.47,"t":117.9},
{"trip":"12:10","kind":"act","d":0,"t":61.2},{"trip":"12:10","kind":"act","d":0,"t":70.1},{"trip":"12:10","kind":"act","d":0.39,"t":72.1},{"trip":"12:10","kind":"act","d":0.55,"t":73.0},{"trip":"12:10","kind":"act","d":0.57,"t":74.3},{"trip":"12:10","kind":"act","d":0.93,"t":75.5},{"trip":"12:10","kind":"act","d":1.22,"t":77.1},{"trip":"12:10","kind":"act","d":1.50,"t":77.6},{"trip":"12:10","kind":"act","d":1.72,"t":78.4},{"trip":"12:10","kind":"act","d":2.15,"t":79.2},{"trip":"12:10","kind":"act","d":2.35,"t":80.5},{"trip":"12:10","kind":"act","d":2.77,"t":81.7},{"trip":"12:10","kind":"act","d":3.39,"t":83.8},{"trip":"12:10","kind":"act","d":3.90,"t":87.1},{"trip":"12:10","kind":"act","d":4.13,"t":89.6},{"trip":"12:10","kind":"act","d":4.33,"t":91.7},{"trip":"12:10","kind":"act","d":4.76,"t":93.4},{"trip":"12:10","kind":"act","d":5.17,"t":95.4},{"trip":"12:10","kind":"act","d":5.60,"t":97.1},{"trip":"12:10","kind":"act","d":5.76,"t":98.4},{"trip":"12:10","kind":"act","d":5.80,"t":100.4},{"trip":"12:10","kind":"act","d":6.00,"t":101.3},{"trip":"12:10","kind":"act","d":6.38,"t":103.3},{"trip":"12:10","kind":"act","d":6.93,"t":105.4},{"trip":"12:10","kind":"act","d":7.50,"t":106.7},{"trip":"12:10","kind":"act","d":8.17,"t":108.7},{"trip":"12:10","kind":"act","d":8.41,"t":110.0},{"trip":"12:10","kind":"act","d":8.70,"t":110.8},{"trip":"12:10","kind":"act","d":8.88,"t":112.9},{"trip":"12:10","kind":"act","d":9.11,"t":113.7},{"trip":"12:10","kind":"act","d":9.48,"t":115.8},{"trip":"12:10","kind":"act","d":9.96,"t":117.5},{"trip":"12:10","kind":"act","d":10.30,"t":119.1},{"trip":"12:10","kind":"act","d":10.85,"t":120.9},{"trip":"12:10","kind":"act","d":11.23,"t":122.7},{"trip":"12:10","kind":"act","d":11.61,"t":124.0},{"trip":"12:10","kind":"act","d":11.94,"t":125.4},{"trip":"12:10","kind":"act","d":12.33,"t":126.6},{"trip":"12:10","kind":"act","d":12.49,"t":132.9},
{"trip":"12:10","kind":"plan","d":0,"t":70.1},{"trip":"12:10","kind":"plan","d":0.39,"t":71.1},{"trip":"12:10","kind":"plan","d":0.93,"t":74.2},{"trip":"12:10","kind":"plan","d":1.50,"t":75.9},{"trip":"12:10","kind":"plan","d":1.72,"t":76.7},{"trip":"12:10","kind":"plan","d":2.15,"t":77.5},{"trip":"12:10","kind":"plan","d":2.77,"t":79.6},{"trip":"12:10","kind":"plan","d":3.39,"t":82.5},{"trip":"12:10","kind":"plan","d":3.90,"t":86.2},{"trip":"12:10","kind":"plan","d":4.13,"t":89.5},{"trip":"12:10","kind":"plan","d":4.33,"t":91.3},{"trip":"12:10","kind":"plan","d":4.76,"t":92.5},{"trip":"12:10","kind":"plan","d":5.17,"t":94.2},{"trip":"12:10","kind":"plan","d":5.60,"t":95.9},{"trip":"12:10","kind":"plan","d":5.80,"t":99.2},{"trip":"12:10","kind":"plan","d":6.38,"t":101.7},{"trip":"12:10","kind":"plan","d":6.93,"t":102.9},{"trip":"12:10","kind":"plan","d":7.50,"t":104.6},{"trip":"12:10","kind":"plan","d":8.17,"t":107.5},{"trip":"12:10","kind":"plan","d":8.41,"t":109.0},{"trip":"12:10","kind":"plan","d":8.70,"t":111.2},{"trip":"12:10","kind":"plan","d":8.88,"t":112.1},{"trip":"12:10","kind":"plan","d":9.11,"t":113.3},{"trip":"12:10","kind":"plan","d":9.48,"t":115.8},{"trip":"12:10","kind":"plan","d":9.96,"t":116.6},{"trip":"12:10","kind":"plan","d":10.30,"t":118.3},{"trip":"12:10","kind":"plan","d":10.85,"t":120.2},{"trip":"12:10","kind":"plan","d":11.23,"t":121.0},{"trip":"12:10","kind":"plan","d":11.61,"t":122.6},{"trip":"12:10","kind":"plan","d":11.94,"t":123.8},{"trip":"12:10","kind":"plan","d":12.33,"t":126.0},{"trip":"12:10","kind":"plan","d":12.47,"t":127.9},
{"trip":"12:20","kind":"plan","d":0,"t":80.0},{"trip":"12:20","kind":"plan","d":0.39,"t":81.0},{"trip":"12:20","kind":"plan","d":0.93,"t":84.2},{"trip":"12:20","kind":"plan","d":1.50,"t":85.9},{"trip":"12:20","kind":"plan","d":2.15,"t":87.6},{"trip":"12:20","kind":"plan","d":2.77,"t":90.0},{"trip":"12:20","kind":"plan","d":3.39,"t":93.4},{"trip":"12:20","kind":"plan","d":3.90,"t":96.7},{"trip":"12:20","kind":"plan","d":4.33,"t":100.8},{"trip":"12:20","kind":"plan","d":4.76,"t":101.7},{"trip":"12:20","kind":"plan","d":5.17,"t":103.3},{"trip":"12:20","kind":"plan","d":5.60,"t":106.2},{"trip":"12:20","kind":"plan","d":5.80,"t":109.2},{"trip":"12:20","kind":"plan","d":6.38,"t":111.2},{"trip":"12:20","kind":"plan","d":6.93,"t":113.3},{"trip":"12:20","kind":"plan","d":7.50,"t":115.0},{"trip":"12:20","kind":"plan","d":8.17,"t":117.5},{"trip":"12:20","kind":"plan","d":8.41,"t":119.0},{"trip":"12:20","kind":"plan","d":8.70,"t":120.0},{"trip":"12:20","kind":"plan","d":8.88,"t":122.9},{"trip":"12:20","kind":"plan","d":9.11,"t":122.9},{"trip":"12:20","kind":"plan","d":9.48,"t":126.8},{"trip":"12:20","kind":"plan","d":9.96,"t":127.6},{"trip":"12:20","kind":"plan","d":10.29,"t":130.0},
{"trip":"12:20","kind":"act","d":0,"t":80.3},{"trip":"12:20","kind":"act","d":0.39,"t":81.8},{"trip":"12:20","kind":"act","d":0.40,"t":84.1},{"trip":"12:20","kind":"act","d":0.55,"t":84.3},{"trip":"12:20","kind":"act","d":0.55,"t":84.9},{"trip":"12:20","kind":"act","d":0.93,"t":85.9},{"trip":"12:20","kind":"act","d":1.22,"t":87.4},{"trip":"12:20","kind":"act","d":1.50,"t":87.8},{"trip":"12:20","kind":"act","d":2.15,"t":88.8},{"trip":"12:20","kind":"act","d":2.77,"t":90.9},{"trip":"12:20","kind":"act","d":3.39,"t":94.2},{"trip":"12:20","kind":"act","d":3.90,"t":98.3},{"trip":"12:20","kind":"act","d":4.33,"t":102.9},{"trip":"12:20","kind":"act","d":4.76,"t":105.4},{"trip":"12:20","kind":"act","d":5.17,"t":107.5},{"trip":"12:20","kind":"act","d":5.60,"t":108.7},{"trip":"12:20","kind":"act","d":5.80,"t":110.4},{"trip":"12:20","kind":"act","d":6.38,"t":112.1},{"trip":"12:20","kind":"act","d":6.93,"t":113.7},{"trip":"12:20","kind":"act","d":7.50,"t":115.4},{"trip":"12:20","kind":"act","d":8.17,"t":117.5},{"trip":"12:20","kind":"act","d":8.41,"t":118.3},{"trip":"12:20","kind":"act","d":8.70,"t":119.6},{"trip":"12:20","kind":"act","d":8.88,"t":121.6},{"trip":"12:20","kind":"act","d":9.11,"t":123.3},{"trip":"12:20","kind":"act","d":9.46,"t":127.3},{"trip":"12:20","kind":"act","d":9.96,"t":128.5},{"trip":"12:20","kind":"act","d":9.98,"t":129.4},
{"trip":"12:30","kind":"plan","d":0,"t":90.1},{"trip":"12:30","kind":"plan","d":0.39,"t":90.9},{"trip":"12:30","kind":"plan","d":0.93,"t":94.2},{"trip":"12:30","kind":"plan","d":1.22,"t":95.0},{"trip":"12:30","kind":"plan","d":1.50,"t":95.9},{"trip":"12:30","kind":"plan","d":2.15,"t":97.5},{"trip":"12:30","kind":"plan","d":2.77,"t":100.0},{"trip":"12:30","kind":"plan","d":3.39,"t":102.5},{"trip":"12:30","kind":"plan","d":3.90,"t":107.0},{"trip":"12:30","kind":"plan","d":4.33,"t":111.0},{"trip":"12:30","kind":"plan","d":4.76,"t":112.8},{"trip":"12:30","kind":"plan","d":5.17,"t":113.3},{"trip":"12:30","kind":"plan","d":5.60,"t":116.2},{"trip":"12:30","kind":"plan","d":5.80,"t":119.5},{"trip":"12:30","kind":"plan","d":6.38,"t":122.4},{"trip":"12:30","kind":"plan","d":6.93,"t":123.6},{"trip":"12:30","kind":"plan","d":7.50,"t":124.9},{"trip":"12:30","kind":"plan","d":8.17,"t":127.8},{"trip":"12:30","kind":"plan","d":8.40,"t":129.5},
{"trip":"12:30","kind":"act","d":0,"t":90.6},{"trip":"12:30","kind":"act","d":0.39,"t":91.2},{"trip":"12:30","kind":"act","d":0.40,"t":93.9},{"trip":"12:30","kind":"act","d":0.93,"t":95.9},{"trip":"12:30","kind":"act","d":1.22,"t":97.5},{"trip":"12:30","kind":"act","d":1.50,"t":97.8},{"trip":"12:30","kind":"act","d":2.15,"t":98.8},{"trip":"12:30","kind":"act","d":2.77,"t":101.3},{"trip":"12:30","kind":"act","d":3.39,"t":105.4},{"trip":"12:30","kind":"act","d":3.90,"t":109.5},{"trip":"12:30","kind":"act","d":4.33,"t":113.5},{"trip":"12:30","kind":"act","d":4.76,"t":115.8},{"trip":"12:30","kind":"act","d":5.17,"t":116.6},{"trip":"12:30","kind":"act","d":5.60,"t":118.3},{"trip":"12:30","kind":"act","d":5.80,"t":119.5},{"trip":"12:30","kind":"act","d":6.38,"t":121.2},{"trip":"12:30","kind":"act","d":6.93,"t":122.4},{"trip":"12:30","kind":"act","d":7.50,"t":124.1},{"trip":"12:30","kind":"act","d":8.17,"t":127.0},{"trip":"12:30","kind":"act","d":8.36,"t":129.5},
{"trip":"12:40","kind":"act","d":0,"t":100.0},{"trip":"12:40","kind":"act","d":0.39,"t":101.6},{"trip":"12:40","kind":"act","d":0.93,"t":104.6},{"trip":"12:40","kind":"act","d":1.22,"t":105.3},{"trip":"12:40","kind":"act","d":1.50,"t":106.7},{"trip":"12:40","kind":"act","d":2.15,"t":108.3},{"trip":"12:40","kind":"act","d":2.77,"t":110.8},{"trip":"12:40","kind":"act","d":3.39,"t":113.7},{"trip":"12:40","kind":"act","d":3.90,"t":116.2},{"trip":"12:40","kind":"act","d":4.33,"t":119.0},{"trip":"12:40","kind":"act","d":4.76,"t":120.8},{"trip":"12:40","kind":"act","d":5.17,"t":122.4},{"trip":"12:40","kind":"act","d":5.60,"t":124.1},{"trip":"12:40","kind":"act","d":6.00,"t":125.8},{"trip":"12:40","kind":"act","d":6.38,"t":127.4},{"trip":"12:40","kind":"act","d":6.93,"t":128.7},{"trip":"12:40","kind":"act","d":7.52,"t":130.4},
{"trip":"12:40","kind":"plan","d":0,"t":100.0},{"trip":"12:40","kind":"plan","d":0.39,"t":101.4},{"trip":"12:40","kind":"plan","d":0.93,"t":104.4},{"trip":"12:40","kind":"plan","d":1.50,"t":106.5},{"trip":"12:40","kind":"plan","d":2.15,"t":108.1},{"trip":"12:40","kind":"plan","d":2.77,"t":110.6},{"trip":"12:40","kind":"plan","d":3.39,"t":114.2},{"trip":"12:40","kind":"plan","d":3.90,"t":117.6},{"trip":"12:40","kind":"plan","d":4.33,"t":120.5},{"trip":"12:40","kind":"plan","d":4.76,"t":122.0},{"trip":"12:40","kind":"plan","d":5.17,"t":123.3},{"trip":"12:40","kind":"plan","d":5.60,"t":126.2},{"trip":"12:40","kind":"plan","d":5.82,"t":129.4},
{"trip":"12:50","kind":"plan","d":0,"t":110.0},{"trip":"12:50","kind":"plan","d":0.39,"t":110.8},{"trip":"12:50","kind":"plan","d":0.93,"t":113.7},{"trip":"12:50","kind":"plan","d":1.22,"t":114.7},{"trip":"12:50","kind":"plan","d":1.50,"t":115.8},{"trip":"12:50","kind":"plan","d":2.15,"t":117.5},{"trip":"12:50","kind":"plan","d":2.77,"t":120.0},{"trip":"12:50","kind":"plan","d":3.39,"t":123.3},{"trip":"12:50","kind":"plan","d":3.90,"t":125.8},{"trip":"12:50","kind":"plan","d":4.10,"t":128.7},{"trip":"12:50","kind":"plan","d":4.20,"t":131.2},
{"trip":"13:00","kind":"plan","d":0,"t":120.0},{"trip":"13:00","kind":"plan","d":0.39,"t":120.7},{"trip":"13:00","kind":"plan","d":0.93,"t":124.1},{"trip":"13:00","kind":"plan","d":1.22,"t":124.8},{"trip":"13:00","kind":"plan","d":1.50,"t":125.0},{"trip":"13:00","kind":"plan","d":1.72,"t":125.8},{"trip":"13:00","kind":"plan","d":2.15,"t":127.4},{"trip":"13:00","kind":"plan","d":2.36,"t":128.9},
{"trip":"13:00","kind":"act","d":0,"t":126.3},{"trip":"13:00","kind":"act","d":0.40,"t":127.8},{"trip":"13:00","kind":"act","d":0.55,"t":129.4}
]},
"data": {"name": "trips"},
"encoding": {
  "color": {"field": "trip", "type": "nominal", "legend": null, "scale": {"domain": ["10:11","10:21","10:31","10:41","10:51","11:01","11:11","11:21","11:31","11:41","11:51","12:00","12:10","12:20","12:30","12:40","12:50","13:00"], "range": ["#1a1a1a","#555555","#7a7a7a","#a8a8a8","#cccccc","#9a9a9a","#888888","#666666","#1a1a1a","#6a6a6a","#8a8a8a","#aaaaaa","#1a1a1a","#cccccc","#999999","#555555","#a8a8a8","#cccccc"]}},
  "strokeWidth": {"field": "trip", "type": "nominal", "legend": null, "scale": {"type": "ordinal", "domain": ["10:11","10:21","10:31","10:41","10:51","11:01","11:11","11:21","11:31","11:41","11:51","12:00","12:10","12:20","12:30","12:40","12:50","13:00"], "range": [2.5,2.5,2,3,3,1.5,1.5,1.5,2,1.3,1.3,1.3,2.6,1.3,1.5,2.6,3,3]}},
  "strokeDash": {"field": "kind", "type": "nominal", "legend": null, "scale": {"domain": ["act","plan"], "range": [[1,0],[9,5]]}},
  "order": [{"field": "t", "type": "quantitative"}, {"field": "d", "type": "quantitative"}]
},
"layer": [
  {"transform": [{"filter": "datum.kind == 'plan' && datum.trip < '11:40'"}],
   "mark": {"type": "line", "clip": false},
   "encoding": {
     "x": {"field": "d", "type": "quantitative", "scale": {"domain": [0, 12.48], "nice": false, "zero": false},
       "axis": {"orient": "top", "values": [0,0.55,0.91,1.5,2.15,2.58,3.04,3.89,4.76,5.17,5.8,6.38,6.93,8.18,8.7,9.11,9.48,10.3,10.85,11.61,12.32], "labelExpr": "indexof([0,0.55,0.91,1.5,2.15,2.58,3.04,3.89,4.76,5.17,5.8,6.38,6.93,8.18,8.7,9.11,9.48,10.3,10.85,11.61,12.32], datum.value) * 2 + 1", "tickSize": 30, "labelPadding": 1, "title": "stop", "titlePadding": 2}},
     "y": {"field": "t", "type": "quantitative", "scale": {"domain": [2.16, 129.02], "reverse": true, "nice": false, "zero": false},
       "axis": {"orient": "right", "values": [30,60,90,120], "labelExpr": "(11 + floor(datum.value / 60)) + ':' + (datum.value % 60 < 10 ? '0' : '') + (datum.value % 60)", "tickSize": 6, "labelPadding": 6, "title": "time [hh:mm]", "titleAngle": 270, "titleBaseline": "top", "titlePadding": 8, "grid": true, "gridColor": "#000000", "gridWidth": 1, "gridOpacity": 1, "domainColor": "#888888", "domainWidth": 1.5, "tickColor": "#666666"}}
   }},
  {"transform": [{"filter": "datum.kind == 'act' && datum.trip < '11:40'"}],
   "mark": {"type": "line", "clip": false},
   "encoding": {
     "x": {"field": "d", "type": "quantitative", "scale": {"domain": [0, 12.48], "nice": false, "zero": false},
       "axis": {"orient": "bottom", "values": [0,2,4,6,8,10,12], "format": "d", "tickSize": 30, "labelPadding": 0.5, "title": "distance [mile]", "titlePadding": 3}},
     "y": {"field": "t", "type": "quantitative", "scale": {"domain": [2.16, 129.02], "reverse": true, "nice": false, "zero": false},
       "axis": {"orient": "left", "values": [11,21,31,41,51,60,70,80,90,100,110,120], "labelExpr": "(11 + floor(datum.value / 60)) + ':' + (datum.value % 60 < 10 ? '0' : '') + (datum.value % 60)", "tickSize": 6, "labelPadding": 5, "title": "trip MLT [hh:mm]", "titlePadding": 0, "domainColor": "#999999", "domainWidth": 2, "tickColor": "#666666"}}
   }},
  {"transform": [{"filter": "datum.kind == 'act' && datum.trip > '11:40'"}],
   "mark": {"type": "line", "clip": false},
   "encoding": {
     "x": {"field": "d", "type": "quantitative", "scale": {"domain": [0, 12.48], "nice": false, "zero": false},
       "axis": {"orient": "top", "values": [0.4,0.73,1.17,1.71,2.38,2.77,3.39,4.34,5.03,5.59,6,6.73,7.51,8.37,8.87,9.31,9.96,10.59,11.24,11.94,12.47], "labelExpr": "indexof([0.4,0.73,1.17,1.71,2.38,2.77,3.39,4.34,5.03,5.59,6,6.73,7.51,8.37,8.87,9.31,9.96,10.59,11.24,11.94,12.47], datum.value) * 2 + 2", "tickSize": 6, "labelPadding": 0, "title": null}},
     "y": {"field": "t", "type": "quantitative", "scale": {"domain": [2.16, 129.02], "reverse": true, "nice": false, "zero": false}, "axis": null}
   }},
  {"transform": [{"filter": "datum.kind == 'plan' && datum.trip > '11:40'"}],
   "mark": {"type": "line", "clip": false},
   "encoding": {
     "x": {"field": "d", "type": "quantitative", "scale": {"domain": [0, 12.48], "nice": false, "zero": false},
       "axis": {"orient": "bottom", "values": [1,3,5,7,9,11], "format": "d", "tickSize": 5, "labelPadding": 1.5, "title": null}},
     "y": {"field": "t", "type": "quantitative", "scale": {"domain": [2.16, 129.02], "reverse": true, "nice": false, "zero": false}, "axis": null}
   }}
],
"resolve": {"axis": {"x": "independent", "y": "independent"}}
}
